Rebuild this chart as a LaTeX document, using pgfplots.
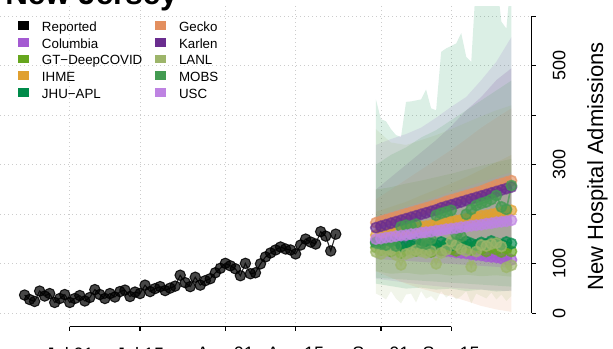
\documentclass[border=0pt]{standalone}
\usepackage{fontspec}
\setmainfont{Liberation Sans}
\usepackage{pgfplots}
\pgfplotsset{compat=1.18}

\definecolor{ccolumbia}{HTML}{A45AD2}
\definecolor{cgt}{HTML}{66A61E}
\definecolor{cihme}{HTML}{E0A030}
\definecolor{cjhu}{HTML}{008B4A}
\definecolor{cgecko}{HTML}{E38F5F}
\definecolor{ckarlen}{HTML}{6A2D8F}
\definecolor{clanl}{HTML}{9DB56A}
\definecolor{cmobs}{HTML}{439B51}
\definecolor{cusc}{HTML}{BE83E2}

\pgfplotsset{
  band/.style={fill=#1, fill opacity=0.14, draw=none, forget plot},
  fc/.style={color=#1, line width=1.2pt, draw opacity=0.7, mark=*, mark size=3.9pt,
    mark options={draw=none, fill=#1, fill opacity=0.65}, forget plot},
}

\begin{document}
\begin{tikzpicture}
\path[use as bounding box] (0pt,0pt) rectangle (459.75pt,261.75pt);
\begin{axis}[
  at={(0pt,16.7pt)}, anchor=south west,
  scale only axis, width=398.8pt, height=240.5pt,
  xmin=-13.9, xmax=92.05, ymin=-27, ymax=620.5,
  axis x line*=bottom, axis y line*=right,
  axis line style={draw=none},
  xtick={0,14,31,45,62,76},
  xticklabels={Jul 01,Jul 15,Aug 01,Aug 15,Sep 01,Sep 15},
  ytick={0,100,...,600},
  yticklabels={0,100,,300,,500,},
  tick align=outside, major tick length=3pt,
  tick style={black, line width=0.9pt},
  grid=major,
  major grid style={gray!40, line width=0.6pt, dash pattern=on 0.7pt off 2.3pt},
  tick label style={font=\fontsize{13.5}{14}\selectfont},
  /pgf/number format/assume math mode=true,
  xticklabel style={anchor=north, inner sep=0pt},
  xticklabel shift=12pt,
  yticklabel style={rotate=90, anchor=north, inner sep=0pt},
  yticklabel shift=12.6pt,
  ylabel={New Hospital Admissions},
  every axis y label/.style={at={(axis description cs:1.1235,0.5)}, anchor=center, rotate=90,
    font=\fontsize{16.5}{17}\selectfont},
  title={New Jersey},
  title style={at={(axis description cs:0.0094,0.981)}, anchor=base west, inner sep=0pt,
    font=\bfseries\fontsize{23.5}{24}\selectfont},
  legend image code/.code={\fill[#1, draw=none] (0pt,-2.6pt) rectangle (8.25pt,4.1pt);
    \path[draw=none, fill=none] (0pt,0pt) -- (17.8pt,0pt);},
  legend columns=5, transpose legend,
  legend style={at={(axis description cs:0.0338,0.9545)}, anchor=north west, draw=none, fill=none,
    inner sep=0pt, row sep=4.75pt, column sep=0pt, font=\fontsize{10}{12}\selectfont,
    nodes={inner sep=0pt, text height=7.5pt, text depth=0pt, text width=85pt, align=left}},
  legend cell align=left,
  after end axis/.code={
    \draw[black, line width=0.9pt] (axis cs:0,-27) -- (axis cs:76,-27);
    \draw[black, line width=0.9pt] (axis cs:92.05,0) -- (axis cs:92.05,600);
  },
]

% 95% intervals
\addplot[band=ccolumbia] coordinates {(61,340) (64,352) (67,362) (70,375) (73,395) (76,417) (79,437) (82,471) (85,508) (88,558)
  (88,45) (85,46) (82,48) (79,50) (76,52) (73,55) (70,58) (67,62) (64,66) (61,70)} -- cycle;
\addplot[band=cgt] coordinates {(61,250) (64,255) (67,262) (70,268) (73,275) (76,282) (79,290) (82,298) (85,305) (88,312)
  (88,74) (85,77) (82,75) (79,78) (76,76) (73,80) (70,78) (67,82) (64,80) (61,85)} -- cycle;
\addplot[band=cihme] coordinates {(61,205) (64,215) (67,225) (70,238) (73,250) (76,262) (79,275) (82,290) (85,305) (88,320)
  (88,108) (85,110) (82,111) (79,112) (76,113) (73,114) (70,115) (67,116) (64,117) (61,118)} -- cycle;
\addplot[band=cjhu] coordinates {(61,432) (62,392) (63,388) (64,372) (65,360) (66,356) (67,427) (68,428) (69,430) (70,432)
  (71,452) (72,414) (73,410) (74,528) (75,535) (76,540) (77,545) (78,566) (79,518) (80,508) (81,680) (82,690)
  (83,700) (84,690) (85,680) (86,589) (87,575) (88,690)
  (88,46) (85,44) (82,48) (79,45) (76,50) (73,48) (70,52) (67,50) (64,55) (61,60)} -- cycle;
\addplot[band=cgecko] coordinates {(61,230) (64,250) (67,270) (70,290) (73,310) (76,330) (79,352) (82,375) (85,395) (88,414)
  (88,3) (85,8) (82,15) (79,25) (76,34) (73,42) (70,50) (67,60) (64,72) (61,85)} -- cycle;
\addplot[band=ckarlen] coordinates {(61,250) (64,275) (67,300) (70,325) (73,350) (76,378) (79,410) (82,437) (85,471) (88,495)
  (88,92) (85,94) (82,96) (79,98) (76,100) (73,102) (70,104) (67,106) (64,108) (61,110)} -- cycle;
\addplot[band=clanl] coordinates {(61,372) (64,345) (67,340) (70,350) (73,360) (76,372) (79,385) (82,398) (85,410) (88,420)
  (88,35) (87,25) (86,38) (85,28) (84,42) (83,30) (82,35) (81,40) (80,20) (79,45) (78,35) (77,28) (76,40) (75,32)
  (74,45) (73,25) (72,35) (71,30) (70,45) (69,22) (68,40) (67,38) (66,20) (65,30) (64,45) (63,28) (62,35) (61,40)} -- cycle;
\addplot[band=cmobs] coordinates {(61,300) (64,320) (67,335) (70,355) (73,370) (76,390) (79,410) (82,430) (85,450) (88,470)
  (88,54) (85,56) (82,58) (79,60) (76,62) (73,64) (70,66) (67,68) (64,70) (61,72)} -- cycle;
\addplot[band=cusc] coordinates {(61,195) (64,205) (67,215) (70,225) (73,235) (76,245) (79,255) (82,265) (85,275) (88,285)
  (88,92) (85,94) (82,96) (79,98) (76,100) (73,102) (70,104) (67,106) (64,108) (61,110)} -- cycle;

% reported
\addplot[black, line width=0.8pt, draw opacity=0.85, mark=*, mark size=3.9pt,
  mark options={draw=none, fill=black, fill opacity=0.72}, forget plot] coordinates {
  (-9,37) (-8,28) (-7,24) (-6,45) (-5,35) (-4,40) (-3,22) (-2,30) (-1,38) (0,22) (1,30) (2,36) (3,25) (4,32)
  (5,48) (6,38) (7,30) (8,40) (9,33) (10,44) (11,47) (12,34) (13,43) (14,40) (15,57) (16,44) (17,50) (18,54)
  (19,46) (20,51) (21,55) (22,77) (23,62) (24,54) (25,73) (26,57) (27,66) (28,70) (29,82) (30,91) (31,101)
  (32,96) (33,90) (34,76) (35,101) (36,80) (37,82) (38,100) (39,114) (40,122) (41,128) (42,134) (43,130)
  (44,128) (45,120) (46,138) (47,150) (48,144) (49,140) (50,165) (51,156) (52,126) (53,160)};

% median forecasts
\addplot[fc=ccolumbia] coordinates {(61,145) (62,144) (63,142) (64,141) (65,140) (66,138) (67,137) (68,136) (69,134) (70,133)
  (71,132) (72,130) (73,129) (74,128) (75,126) (76,125) (77,123) (78,122) (79,121) (80,119) (81,118) (82,117)
  (83,115) (84,114) (85,113) (86,111) (87,110) (88,108)};
\addplot[fc=cgt] coordinates {(61,133) (62,128) (63,135) (64,125) (65,130) (66,122) (67,128) (68,131) (69,126) (70,134)
  (71,129) (72,124) (73,132) (74,127) (75,135) (76,130) (77,126) (78,138) (79,133) (80,128) (81,136) (82,130)
  (83,125) (84,133) (85,129) (86,124) (87,131) (88,125)};
\addplot[fc=cihme] coordinates {(61,158) (62,160) (63,162) (64,164) (65,165) (66,167) (67,169) (68,171) (69,173) (70,175)
  (71,176) (72,178) (73,180) (74,182) (75,184) (76,186) (77,187) (78,189) (79,191) (80,193) (81,195) (82,197)
  (83,198) (84,200) (85,202) (86,204) (87,206) (88,208)};
\addplot[fc=cjhu] coordinates {(61,142) (62,138) (63,141) (64,136) (65,139) (66,135) (67,140) (68,137) (69,143) (70,139)
  (71,136) (72,141) (73,138) (74,144) (75,140) (76,137) (77,142) (78,139) (79,145) (80,141) (81,138) (82,143)
  (83,140) (84,146) (85,142) (86,139) (87,144) (88,141)};
\addplot[fc=cgecko] coordinates {(61,183) (62,186) (63,189) (64,192) (65,195) (66,198) (67,201) (68,204) (69,207) (70,210)
  (71,213) (72,216) (73,219) (74,222) (75,226) (76,229) (77,232) (78,235) (79,238) (80,241) (81,244) (82,247)
  (83,251) (84,255) (85,259) (86,262) (87,265) (88,268)};
\addplot[fc=ckarlen] coordinates {(61,173) (62,176) (63,179) (64,182) (65,185) (66,188) (67,191) (68,194) (69,197) (70,200)
  (71,203) (72,206) (73,209) (74,213) (75,216) (76,219) (77,222) (78,225) (79,228) (80,231) (81,234) (82,237)
  (83,240) (84,243) (85,246) (86,249) (87,252) (88,255)};
\addplot[fc=clanl] coordinates {(61,124) (62,120) (63,126) (64,128) (65,118) (66,98) (67,120) (68,123) (69,128) (70,125)
  (71,122) (72,126) (73,100) (74,122) (75,128) (76,145) (77,138) (78,130) (79,126) (80,94) (81,125) (82,138)
  (83,136) (84,140) (85,142) (86,135) (87,93) (88,97)};
\addplot[fc=cmobs] coordinates {(61,143) (62,140) (63,138) (64,145) (65,136) (66,175) (67,178) (68,176) (69,180) (70,142)
  (71,140) (72,150) (73,198) (74,202) (75,205) (76,208) (77,160) (78,155) (79,200) (80,210) (81,218) (82,222)
  (83,225) (84,230) (85,238) (86,215) (87,210) (88,258)};
\addplot[fc=cusc] coordinates {(61,150) (62,151) (63,153) (64,154) (65,156) (66,157) (67,158) (68,160) (69,161) (70,163)
  (71,164) (72,165) (73,167) (74,168) (75,170) (76,171) (77,172) (78,174) (79,175) (80,177) (81,178) (82,179)
  (83,181) (84,182) (85,184) (86,185) (87,186) (88,188)};

% legend
\addlegendimage{fill=black}\addlegendentry{Reported}
\addlegendimage{fill=ccolumbia}\addlegendentry{Columbia}
\addlegendimage{fill=cgt}\addlegendentry{GT−DeepCOVID}
\addlegendimage{fill=cihme}\addlegendentry{IHME}
\addlegendimage{fill=cjhu}\addlegendentry{JHU−APL}
\addlegendimage{fill=cgecko}\addlegendentry{Gecko}
\addlegendimage{fill=ckarlen}\addlegendentry{Karlen}
\addlegendimage{fill=clanl}\addlegendentry{LANL}
\addlegendimage{fill=cmobs}\addlegendentry{MOBS}
\addlegendimage{fill=cusc}\addlegendentry{USC}
\end{axis}
\end{tikzpicture}
\end{document}
